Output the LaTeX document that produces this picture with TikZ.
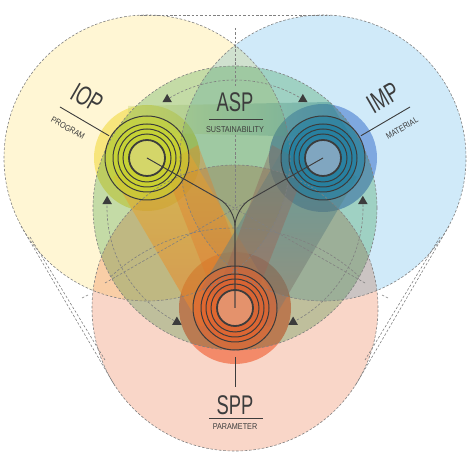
\documentclass[tikz,border=0pt]{standalone}
\usepackage{fontspec}
\usepackage{tikz}
\usetikzlibrary{shapes.geometric, calc}
\newfontfamily\tagfont[FakeStretch=0.68]{Liberation Sans}
\newfontfamily\subfont[FakeStretch=0.85]{Liberation Sans}

\definecolor{fondoiop}{RGB}{255,246,212}
\definecolor{fondoimp}{RGB}{208,234,249}
\definecolor{fondospp}{RGB}{249,214,200}
\definecolor{fondoasp}{RGB}{196,228,200}
\definecolor{haloiop}{RGB}{247,238,150}
\definecolor{haloimp}{RGB}{155,184,230}
\definecolor{halospp}{RGB}{249,165,135}
\definecolor{discoiop}{RGB}{200,212,45}
\definecolor{discoimp}{RGB}{30,125,160}
\definecolor{discospp}{RGB}{228,98,45}
\definecolor{centroiop}{RGB}{212,214,105}
\definecolor{centroimp}{RGB}{128,166,192}
\definecolor{centrospp}{RGB}{228,146,108}
\definecolor{oroarriba}{RGB}{222,190,55}
\definecolor{oroabajo}{RGB}{232,128,48}
\definecolor{naranja}{RGB}{226,112,40}
\definecolor{verdearriba}{RGB}{55,145,160}
\definecolor{verdeabajo}{RGB}{150,118,100}
\definecolor{marron}{RGB}{168,96,76}
\definecolor{bandalima}{RGB}{200,215,110}
\definecolor{bandapetroleo}{RGB}{40,128,150}
\definecolor{tinta}{RGB}{60,60,60}

\begin{document}
\begin{tikzpicture}[x=1pt, y=1pt]

\tikzset{
  guia/.style={draw=black!50, line width=0.6pt, dash pattern=on 2.5pt off 1.8pt},
  anillo/.style={draw=tinta, line width=1pt},
  marca/.style={regular polygon, regular polygon sides=3,
    fill=tinta, inner sep=0pt, minimum size=11pt},
  titulo/.style={font=\tagfont\fontsize{27}{27}\selectfont,
    text=tinta, inner sep=0pt},
  subtitulo/.style={font=\subfont\fontsize{8.5}{8.5}\selectfont,
    text=tinta, inner sep=0pt},
  raya/.style={draw=tinta, line width=0.9pt}
}

\useasboundingbox (0,0) rectangle (468,468);

% ---- CENTRES ----
\coordinate (iop) at (147,310);
\coordinate (imp) at (323,310);
\coordinate (spp) at (235,160);
\coordinate (asp) at (235,260);

% ---- LARGE CIRCLES AND HALOS ----
\begin{scope}[blend mode=multiply]
  \fill[fondoiop] (iop) circle[radius=143];
  \fill[fondoimp] (imp) circle[radius=143];
  \fill[fondospp] (spp) circle[radius=143];
  \fill[fondoasp] (asp) circle[radius=142];
  \fill[haloiop]  (iop) circle[radius=53];
  \fill[haloimp]  (imp) circle[radius=54];
  \fill[halospp]  (spp) circle[radius=56];
\end{scope}

% ---- BANDS ----
\shade[left color=bandalima, right color=bandapetroleo, opacity=.4]
  (128,336) -- (128,362) -- (330,366) -- (352,330) -- cycle;
\shade[top color=oroarriba, bottom color=oroabajo, opacity=.6]
  (113,291) -- (181,329) -- (269,179) -- (201,141) -- cycle;
\shade[top color=naranja!70!oroarriba, bottom color=naranja, opacity=.4]
  (163,303) -- (198,323) -- (255,170) -- (222,152) -- cycle;
\shade[top color=verdearriba, bottom color=verdeabajo, opacity=.55]
  (357,291) -- (289,329) -- (201,179) -- (269,141) -- cycle;
\shade[top color=marron!70!verdearriba, bottom color=marron, opacity=.45]
  (307,303) -- (272,323) -- (215,170) -- (248,152) -- cycle;

% ---- NODE DISCS ----
\foreach \n/\c/\i in {iop/discoiop/centroiop, imp/discoimp/centroimp, spp/discospp/centrospp} {
  \fill[\c, opacity=.55] (\n) circle[radius=42];
  \fill[\c, opacity=.6]  (\n) circle[radius=34];
  \fill[\i] (\n) circle[radius=18];
}

% ---- GUIDE LINES ----
\foreach \n in {iop, imp, spp}
  \draw[guia] (\n) circle[radius=143];
\draw[guia] (asp) circle[radius=142];
\begin{scope}
  \clip (asp) circle[radius=142];
  \draw[guia] (235,57) circle[radius=183];
\end{scope}
\draw[guia] (asp) ++(58:128)  arc[start angle=58,  end angle=122, radius=128];
\draw[guia] (asp) ++(177:128) arc[start angle=177, end angle=243, radius=128];
\draw[guia] (asp) ++(297:128) arc[start angle=297, end angle=363, radius=128];

\coordinate (tl1) at (21,242);  \coordinate (bl1) at (115,82);
\coordinate (tl2) at (30,231);  \coordinate (bl2) at (105,108);
\coordinate (tr1) at (449,242); \coordinate (br1) at (355,82);
\coordinate (tr2) at (440,231); \coordinate (br2) at (365,108);
\draw[guia] (tl1) -- (bl1);
\draw[guia] (tl2) -- (bl2);
\draw[guia] (tr1) -- (br1);
\draw[guia] (tr2) -- (br2);
\draw[guia] (140,453) -- (330,453);
\draw[guia] (235,440) -- (235,382);
\draw[guia] (235,333) -- (235,262);
\coordinate (dl) at (105,185); \coordinate (dr) at (365,185);
\draw[guia] (dl) -- (imp);
\draw[guia] (dr) -- (iop);
\draw[guia] (82,170) -- (88,173);
\draw[guia] (388,170) -- (382,173);

% ---- RINGS ----
\foreach \n in {iop, imp, spp} {
  \foreach \r in {24,29,34,42}
    \draw[anillo] (\n) circle[radius=\r];
  \draw[anillo, line width=1.8pt] (\n) circle[radius=18];
}

% ---- LINKS ----
\draw[raya, rounded corners=18pt] (iop) -- (asp) -- (spp);
\draw[raya, rounded corners=18pt] (imp) -- (asp) -- (spp);

% ---- ARROW MARKS ----
\foreach \a [count=\k] in {58,122,177,243,297,3}
  \node[marca] (flecha\k) at ($(asp)+(\a:128)$) {};

% ---- LABELS ----
\node[titulo] (asptit) at (235,366) {ASP};
\draw[raya] (209,349) -- (263,349);
\node[subtitulo] (aspsub) at (235,338) {SUSTAINABILITY};

\coordinate (sppfin) at (235,81);
\draw[raya] ($(spp)+(0,-49)$) -- (sppfin);
\node[titulo] (spptit) at (235,63) {SPP};
\draw[raya] (209,50) -- (263,50);
\node[subtitulo] (sppsub) at (235,41) {PARAMETER};

\coordinate (ioptag) at (60,361);
\draw[raya] ($(iop)!44pt!(ioptag)$) -- (ioptag);
\node[titulo, rotate=-30] (ioptit) at (87,370) {IOP};
\node[subtitulo, rotate=-30] (iopsub) at (68,340) {PROGRAM};

\coordinate (imptag) at (410,361);
\draw[raya] ($(imp)!44pt!(imptag)$) -- (imptag);
\node[titulo, rotate=30] (imptit) at (383,370) {IMP};
\node[subtitulo, rotate=30] (impsub) at (402,340) {MATERIAL};

\end{tikzpicture}
\end{document}
